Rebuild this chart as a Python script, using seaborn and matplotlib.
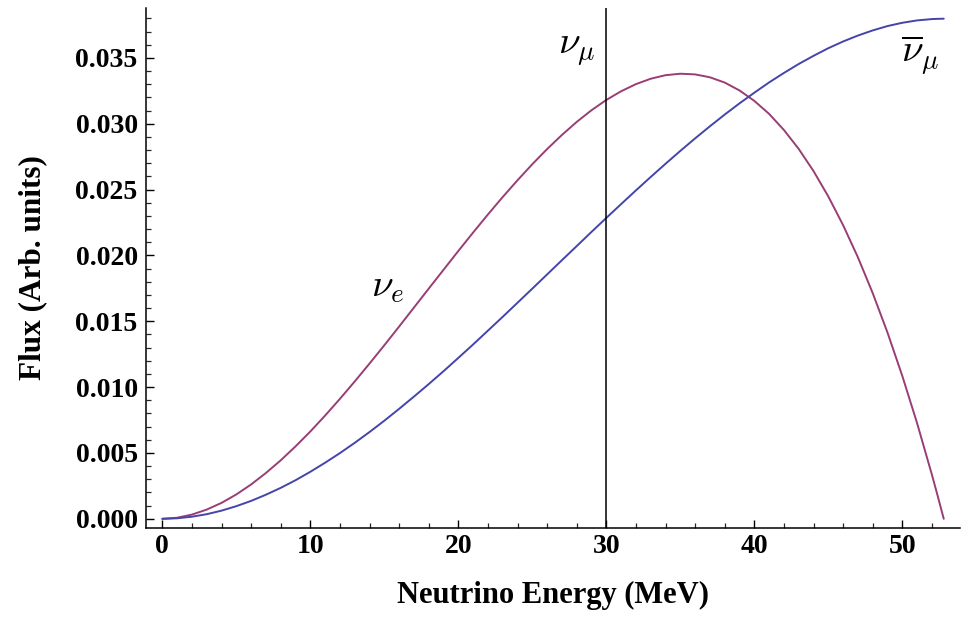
import numpy as np
import pandas as pd
import seaborn as sns
import matplotlib
matplotlib.use("Agg")
import matplotlib.pyplot as plt
from matplotlib.ticker import MultipleLocator, FormatStrFormatter

# values (MeV, arbitrary flux units)
energy = [0, 1, 2, 3, 4, 5, 6, 7, 8, 9, 10, 11, 12, 13, 14, 15, 16, 17, 18, 19,
          20, 21, 22, 23, 24, 25, 26, 27, 28, 29, 30, 31, 32, 33, 34, 35, 36, 37,
          38, 39, 40, 41, 42, 43, 44, 45, 46, 47, 48, 49, 50, 51, 52, 52.4, 52.8]
flux_nue = [0.0, 0.00008, 0.00032, 0.00070, 0.00121, 0.00185, 0.00261, 0.00348,
            0.00444, 0.00550, 0.00663, 0.00784, 0.00911, 0.01043, 0.01179, 0.01318,
            0.01460, 0.01604, 0.01748, 0.01891, 0.02034, 0.02174, 0.02311, 0.02444,
            0.02571, 0.02693, 0.02808, 0.02915, 0.03014, 0.03103, 0.03181, 0.03247,
            0.03301, 0.03342, 0.03369, 0.03380, 0.03375, 0.03353, 0.03313, 0.03253,
            0.03174, 0.03075, 0.02953, 0.02809, 0.02641, 0.02448, 0.02230, 0.01986,
            0.01714, 0.01414, 0.01085, 0.00726, 0.00335, 0.00170, 0.0]
flux_numubar = [0.0, 0.00004, 0.00016, 0.00035, 0.00062, 0.00096, 0.00136, 0.00183,
                0.00235, 0.00293, 0.00357, 0.00426, 0.00499, 0.00577, 0.00659, 0.00745,
                0.00835, 0.00928, 0.01023, 0.01121, 0.01222, 0.01324, 0.01429, 0.01534,
                0.01641, 0.01748, 0.01856, 0.01964, 0.02071, 0.02179, 0.02285, 0.02390,
                0.02494, 0.02596, 0.02696, 0.02794, 0.02889, 0.02981, 0.03070, 0.03155,
                0.03236, 0.03314, 0.03386, 0.03454, 0.03516, 0.03574, 0.03625, 0.03670,
                0.03709, 0.03742, 0.03767, 0.03785, 0.03795, 0.03797, 0.03798]
numu_energy = 30

df = pd.DataFrame({
    "energy": energy * 2,
    "flux": flux_nue + flux_numubar,
    "species": ["nue"] * len(energy) + ["numubar"] * len(energy),
})

sns.set_style("ticks")
plt.rcParams["font.family"] = ["Liberation Serif", "DejaVu Serif"]
plt.rcParams["mathtext.fontset"] = "cm"
plt.rcParams["text.color"] = "black"
plt.rcParams["axes.labelcolor"] = "black"

fig = plt.figure(figsize=(9.71, 6.17), dpi=100)
ax = fig.add_axes([0.1504, 0.1442, 0.8383, 0.843])

palette = {"nue": "#993d75", "numubar": "#4444aa"}
sns.lineplot(data=df, x="energy", y="flux", hue="species", palette=palette,
             linewidth=1.4, legend=False, ax=ax, sort=False)
ax.axvline(numu_energy, color="black", linewidth=1.1)

ax.set_xlim(-1.1, 53.9)
ax.set_ylim(-0.0007, 0.0388)
ax.xaxis.set_major_locator(MultipleLocator(10))
ax.xaxis.set_minor_locator(MultipleLocator(2))
ax.yaxis.set_major_locator(MultipleLocator(0.005))
ax.yaxis.set_minor_locator(MultipleLocator(0.001))
ax.yaxis.set_major_formatter(FormatStrFormatter("%.3f"))

for s in ["top", "right"]:
    ax.spines[s].set_visible(False)
for s in ["left", "bottom"]:
    ax.spines[s].set_linewidth(1.1)
    ax.spines[s].set_color("black")

ax.tick_params(which="major", direction="in", length=6, width=1.0,
               labelsize=20, colors="black")
ax.tick_params(axis="x", which="major", pad=4)
ax.tick_params(axis="y", which="major", pad=6)
ax.tick_params(which="minor", direction="in", length=3.5, width=0.9)
for lab in ax.get_xticklabels() + ax.get_yticklabels():
    lab.set_fontweight("bold")

ax.set_xlabel("Neutrino Energy (MeV)", fontsize=22, fontweight="bold",
              labelpad=16, color="black")
ax.set_ylabel("Flux (Arb. units)", fontsize=22.5, fontweight="bold",
              labelpad=20, color="black")

ax.text(15.2, 0.0176, r"$\nu_e$", fontsize=28, ha="center", va="center", color="black")
ax.text(28.0, 0.0356, r"$\nu_\mu$", fontsize=28, ha="center", va="center", color="black")
ax.text(51.2, 0.0352, r"$\overline{\nu}_\mu$", fontsize=28, ha="center", va="center",
        color="black")

fig.savefig("out.png", dpi=100)
